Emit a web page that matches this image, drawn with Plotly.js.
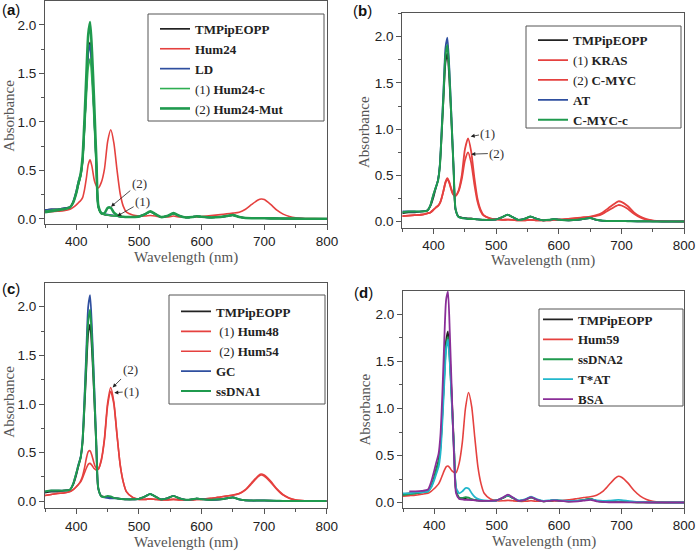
<!DOCTYPE html>
<html>
<head>
<meta charset="utf-8">
<script src="https://cdn.plot.ly/plotly-3.0.1.min.js"></script>
<style>
  html, body { margin: 0; padding: 0; background: #fff; }
  #chart { width: 696px; height: 552px; }
</style>
</head>
<body>
<div id="chart"></div>
<script>
// Wavelength grid (nm) shared by every spectrum
const wavelength = [350, 360, 370, 380, 390, 395, 400, 403, 407, 410, 413, 416, 419, 422, 425, 428, 430, 432, 435, 440,
  445, 450, 455, 460, 465, 470, 475, 480, 490, 500, 510, 518, 526, 535, 545, 555, 565, 575, 585, 592,
  600, 615, 630, 640, 650, 660, 670, 680, 690, 695, 700, 710, 720, 730, 740, 750, 765, 780, 800];

// Q-band region (465-800 nm) of the free porphyrin, reused by the unbound spectra
const freeTail = [0.03, 0.025, 0.022, 0.02, 0.02, 0.025, 0.05, 0.075, 0.05, 0.02, 0.03, 0.055, 0.03, 0.015, 0.02,
  0.028, 0.022, 0.015, 0.02, 0.03, 0.04, 0.02, 0.01, 0.008, 0.008, 0.008, 0.008, 0.006, 0.005, 0.004,
  0.004, 0.003, 0.002, 0.002, 0.002];

const tmpipeopp = [0.09, 0.10, 0.10, 0.11, 0.12, 0.17, 0.27, 0.35, 0.45, 0.60, 0.95, 1.35, 1.72, 1.82, 1.55, 1.15,
  0.85, 0.55, 0.13, 0.055, 0.045, 0.04, 0.035, 0.035, ...freeTail];

// (a)
const hum24 = [0.07, 0.075, 0.08, 0.085, 0.10, 0.12, 0.145, 0.165, 0.19, 0.22, 0.30, 0.42, 0.56, 0.61, 0.54, 0.42,
  0.37, 0.34, 0.32, 0.38, 0.52, 0.80, 0.92, 0.78, 0.50, 0.26, 0.13, 0.07, 0.04, 0.03, 0.03, 0.035, 0.03, 0.02,
  0.02, 0.03, 0.02, 0.018, 0.02, 0.02, 0.025, 0.035, 0.045, 0.052, 0.06, 0.07, 0.10, 0.15, 0.195, 0.205, 0.20,
  0.15, 0.09, 0.05, 0.025, 0.012, 0.005, 0.003, 0.002];
const ld = [0.09, 0.10, 0.10, 0.11, 0.12, 0.18, 0.29, 0.38, 0.47, 0.61, 0.95, 1.34, 1.70, 1.80, 1.53, 1.13,
  0.83, 0.54, 0.13, 0.06, 0.05, 0.045, 0.04, 0.035, ...freeTail];
const hum24c = [0.08, 0.09, 0.10, 0.10, 0.12, 0.17, 0.27, 0.35, 0.44, 0.58, 0.90, 1.25, 1.56, 1.65, 1.42, 1.05,
  0.78, 0.50, 0.12, 0.055, 0.045, 0.04, 0.035, 0.032, ...freeTail];
const hum24Mut = [0.07, 0.08, 0.09, 0.10, 0.12, 0.17, 0.27, 0.36, 0.47, 0.64, 1.02, 1.48, 1.90, 2.03, 1.72, 1.27,
  0.93, 0.60, 0.14, 0.06, 0.06, 0.115, 0.115, 0.065, 0.04, 0.025, 0.022, 0.02, 0.02, 0.025, 0.05, 0.08, 0.05,
  0.02, 0.03, 0.06, 0.03, 0.015, 0.02, 0.028, 0.022, 0.015, 0.02, 0.03, 0.04, 0.02, 0.01, 0.008, 0.008, 0.008,
  0.008, 0.006, 0.005, 0.004, 0.004, 0.003, 0.002, 0.002, 0.002];

// (b)
const kras = [0.06, 0.065, 0.07, 0.075, 0.09, 0.10, 0.13, 0.15, 0.17, 0.20, 0.26, 0.34, 0.43, 0.47, 0.43, 0.36,
  0.32, 0.29, 0.28, 0.34, 0.50, 0.78, 0.90, 0.76, 0.48, 0.25, 0.13, 0.07, 0.035, 0.025, 0.02, 0.022, 0.02, 0.015,
  0.015, 0.02, 0.015, 0.015, 0.015, 0.02, 0.022, 0.03, 0.04, 0.048, 0.055, 0.07, 0.10, 0.15, 0.20, 0.22, 0.215,
  0.17, 0.10, 0.055, 0.028, 0.012, 0.005, 0.003, 0.002];
const cmyc = [0.06, 0.065, 0.07, 0.075, 0.09, 0.10, 0.13, 0.15, 0.17, 0.20, 0.26, 0.34, 0.42, 0.46, 0.42, 0.35,
  0.31, 0.29, 0.28, 0.33, 0.46, 0.66, 0.75, 0.64, 0.41, 0.22, 0.115, 0.065, 0.035, 0.025, 0.02, 0.022, 0.02, 0.015,
  0.015, 0.02, 0.015, 0.015, 0.015, 0.02, 0.022, 0.03, 0.038, 0.045, 0.05, 0.062, 0.085, 0.125, 0.165, 0.18, 0.175,
  0.14, 0.085, 0.045, 0.022, 0.01, 0.004, 0.003, 0.002];
const at = [0.11, 0.11, 0.11, 0.11, 0.12, 0.18, 0.30, 0.36, 0.45, 0.62, 1.02, 1.46, 1.88, 1.99, 1.68, 1.22,
  0.90, 0.58, 0.14, 0.05, 0.04, 0.035, 0.03, 0.03, ...freeTail];
const cmycC = [0.10, 0.11, 0.11, 0.11, 0.12, 0.18, 0.30, 0.36, 0.44, 0.60, 0.98, 1.40, 1.80, 1.91, 1.62, 1.18,
  0.87, 0.56, 0.14, 0.05, 0.04, 0.035, 0.03, 0.03, ...freeTail];

// (c)
const hum48 = [0.06, 0.07, 0.08, 0.085, 0.10, 0.12, 0.15, 0.17, 0.21, 0.26, 0.34, 0.44, 0.51, 0.52, 0.47, 0.40,
  0.36, 0.34, 0.33, 0.42, 0.63, 0.98, 1.13, 1.00, 0.68, 0.38, 0.20, 0.10, 0.04, 0.02, 0.02, 0.025, 0.02, 0.015,
  0.015, 0.02, 0.015, 0.015, 0.015, 0.018, 0.02, 0.03, 0.045, 0.055, 0.065, 0.08, 0.12, 0.19, 0.26, 0.28, 0.27,
  0.21, 0.13, 0.07, 0.035, 0.015, 0.006, 0.003, 0.002];
const hum54 = [0.06, 0.07, 0.08, 0.085, 0.10, 0.12, 0.15, 0.17, 0.20, 0.24, 0.29, 0.34, 0.38, 0.39, 0.37, 0.34,
  0.33, 0.32, 0.33, 0.43, 0.65, 1.01, 1.17, 1.02, 0.69, 0.38, 0.20, 0.10, 0.04, 0.02, 0.02, 0.025, 0.02, 0.015,
  0.015, 0.02, 0.015, 0.015, 0.015, 0.018, 0.02, 0.03, 0.045, 0.055, 0.063, 0.078, 0.115, 0.18, 0.25, 0.27, 0.26,
  0.20, 0.125, 0.065, 0.032, 0.014, 0.006, 0.003, 0.002];
const gc = [0.10, 0.11, 0.11, 0.11, 0.12, 0.18, 0.29, 0.37, 0.46, 0.64, 1.06, 1.55, 2.00, 2.12, 1.78, 1.30,
  0.95, 0.60, 0.14, 0.05, 0.04, 0.035, 0.03, 0.03, ...freeTail];
const ssDNA1 = [0.10, 0.11, 0.11, 0.11, 0.12, 0.18, 0.29, 0.36, 0.45, 0.62, 1.00, 1.45, 1.85, 1.97, 1.66, 1.22,
  0.89, 0.57, 0.14, 0.05, 0.045, 0.055, 0.05, 0.035, ...freeTail];

// (d)
const hum59 = [0.07, 0.075, 0.08, 0.09, 0.10, 0.12, 0.15, 0.17, 0.20, 0.24, 0.29, 0.34, 0.38, 0.39, 0.37, 0.34,
  0.33, 0.32, 0.32, 0.42, 0.64, 1.00, 1.17, 1.02, 0.69, 0.38, 0.20, 0.10, 0.04, 0.02, 0.02, 0.025, 0.02, 0.015,
  0.015, 0.02, 0.015, 0.015, 0.015, 0.018, 0.02, 0.03, 0.045, 0.055, 0.063, 0.08, 0.12, 0.19, 0.26, 0.28, 0.27,
  0.21, 0.13, 0.07, 0.035, 0.015, 0.006, 0.003, 0.002];
const ssDNA2 = [0.08, 0.09, 0.10, 0.11, 0.12, 0.17, 0.26, 0.34, 0.43, 0.58, 0.92, 1.32, 1.66, 1.76, 1.50, 1.10,
  0.80, 0.52, 0.13, 0.05, 0.05, 0.06, 0.055, 0.035, ...freeTail];
const tat = [0.10, 0.10, 0.11, 0.11, 0.12, 0.16, 0.24, 0.30, 0.38, 0.52, 0.85, 1.25, 1.62, 1.73, 1.48, 1.08,
  0.79, 0.51, 0.16, 0.10, 0.12, 0.155, 0.15, 0.10, 0.06, 0.04, 0.03, 0.025, 0.02, 0.025, 0.055, 0.08, 0.055,
  0.025, 0.035, 0.065, 0.035, 0.02, 0.025, 0.03, 0.025, 0.02, 0.022, 0.028, 0.035, 0.025, 0.02, 0.022, 0.028,
  0.03, 0.028, 0.02, 0.012, 0.008, 0.006, 0.004, 0.003, 0.002, 0.002];
const bsa = [null, 0.12, 0.12, 0.125, 0.14, 0.22, 0.34, 0.42, 0.52, 0.72, 1.15, 1.70, 2.15, 2.24, 1.80, 1.20,
  0.80, 0.45, 0.10, 0.04, 0.035, 0.03, 0.03, 0.028, 0.025, 0.022, 0.02, 0.02, 0.02, 0.025, 0.055, 0.085, 0.055,
  0.02, 0.03, 0.06, 0.03, 0.015, 0.02, 0.025, 0.02, 0.012, 0.015, 0.022, 0.03, 0.015, 0.008, 0.005, 0.005, 0.005,
  0.005, 0.004, 0.003, 0.003, 0.002, 0.002, 0.002, 0.002, 0.002];

const BLACK = "#222222";
const RED = "#e5413f";
const BLUE = "#2f4f9f";
const GREEN = "#2fae52";
const DARK_GREEN = "#1f9a4e";
const CYAN = "#22b7cc";
const PURPLE = "#8a2e98";

const W = 696;
const H = 552;
const SERIF = "Liberation Serif, Times New Roman, serif";
const SANS = "Liberation Sans, Arial, sans-serif";

// pixel boxes of the four plot areas (left, right, top, bottom) and their y ranges;
// xTitleY / yTitle give the centres of the axis titles
const panels = [
  { id: "", tag: "a", box: [45, 327, 1, 224], yRange: [-0.052, 2.247], legendAt: [155, 13.9], legendBox: [148, 324, 14, 121],
    tagAt: [0, 10], xTitleY: 257.5, yTitle: [8.7, 116] },
  { id: "2", tag: "b", box: [402.3, 684, 13.3, 227.7], yRange: [-0.065, 2.253], legendAt: [533, 25.2], legendBox: [526, 681, 26, 128],
    tagAt: [351, 11], xTitleY: 260.5, yTitle: [364, 132] },
  { id: "3", tag: "c", box: [45, 326.7, 282.7, 508.3], yRange: [-0.072, 2.247], legendAt: [176, 296.5], legendBox: [169, 325, 295, 404],
    tagAt: [0, 288], xTitleY: 542.5, yTitle: [8.7, 402] },
  { id: "4", tag: "d", box: [403, 684, 291, 507.7], yRange: [-0.053, 2.247], legendAt: [538, 304.5], legendBox: [539, 683, 309, 406],
    tagAt: [352, 292], xTitleY: 541.5, yTitle: [364.5, 409] },
];

const series = [
  [
    [tmpipeopp, "<b>TMPipEOPP</b>", BLACK, 1.7],
    [hum24, "<b>Hum24</b>", RED, 1.6],
    [ld, "<b>LD</b>", BLUE, 1.7],
    [hum24c, "(1) <b>Hum24-c</b>", GREEN, 1.6],
    [hum24Mut, "(2) <b>Hum24-Mut</b>", DARK_GREEN, 2.6],
  ],
  [
    [tmpipeopp, "<b>TMPipEOPP</b>", BLACK, 1.7],
    [kras, "(1) <b>KRAS</b>", RED, 1.8],
    [cmyc, "(2) <b>C-MYC</b>", RED, 1.8],
    [at, "<b>AT</b>", BLUE, 1.8],
    [cmycC, "<b>C-MYC-c</b>", DARK_GREEN, 2],
  ],
  [
    [tmpipeopp, "<b>TMPipEOPP</b>", BLACK, 1.7],
    [hum48, "&nbsp;(1) <b>Hum48</b>", RED, 1.6],
    [hum54, "&nbsp;(2) <b>Hum54</b>", RED, 1.6],
    [gc, "<b>GC</b>", BLUE, 1.8],
    [ssDNA1, "<b>ssDNA1</b>", DARK_GREEN, 2],
  ],
  [
    [tmpipeopp, "<b>TMPipEOPP</b>", BLACK, 1.7],
    [hum59, "<b>Hum59</b>", RED, 1.6],
    [ssDNA2, "<b>ssDNA2</b>", DARK_GREEN, 1.8],
    [tat, "<b>T*AT</b>", CYAN, 1.8],
    [bsa, "<b>BSA</b>", PURPLE, 1.8],
  ],
];

// arrow labels: [panel, text, head wavelength, head absorbance, text wavelength, text absorbance]
const arrowLabels = [
  [0, "(2)", 455.3, 0.127, 500.5, 0.37],
  [0, "(1)", 465.4, 0.03, 505.9, 0.18],
  [1, "(1)", 459.3, 0.92, 486.9, 0.956],
  [1, "(2)", 460.2, 0.73, 501, 0.74],
  [2, "(2)", 458.1, 1.17, 485.8, 1.35],
  [2, "(1)", 460.7, 1.116, 488.5, 1.13],
];

const px = (x) => x / W;
const py = (y) => 1 - y / H;

const traces = [];
const layout = {
  width: W,
  height: H,
  margin: { l: 0, r: 0, t: 0, b: 0 },
  paper_bgcolor: "#fff",
  plot_bgcolor: "#fff",
  showlegend: true,
  shapes: [],
  annotations: [],
};

function paperText(text, x, y, font, extra) {
  return {
    text,
    xref: "paper",
    yref: "paper",
    x: px(x),
    y: py(y),
    xanchor: "center",
    yanchor: "middle",
    showarrow: false,
    font,
    ...extra,
  };
}

panels.forEach((panel, index) => {
  const legendName = index === 0 ? "legend" : `legend${index + 1}`;
  const [left, right, top, bottom] = panel.box;

  series[index].forEach(([y, name, color, width]) => {
    traces.push({
      x: wavelength,
      y,
      name,
      type: "scatter",
      mode: "lines",
      xaxis: `x${panel.id}`,
      yaxis: `y${panel.id}`,
      legend: legendName,
      line: { color, width, shape: "spline", smoothing: 0.6 },
    });
  });

  const common = {
    showline: true,
    mirror: true,
    linecolor: "#555",
    linewidth: 1,
    ticks: "outside",
    ticklen: 5,
    tickwidth: 1,
    tickcolor: "#555",
    showgrid: false,
    zeroline: false,
    tickfont: { family: SANS, size: 13.5, color: "#222" },
  };

  layout[`xaxis${panel.id}`] = {
    ...common,
    domain: [px(left), px(right)],
    anchor: `y${panel.id}`,
    range: [350, 800],
    tick0: 0,
    dtick: 100,
    minor: { ticks: "outside", ticklen: 3, dtick: 50, tickcolor: "#555" },
  };
  layout[`yaxis${panel.id}`] = {
    ...common,
    domain: [py(bottom), py(top)],
    anchor: `x${panel.id}`,
    range: panel.yRange,
    tick0: 0,
    dtick: 0.5,
    tickformat: ".1f",
    minor: { ticks: "outside", ticklen: 3, dtick: 0.25, tickcolor: "#555" },
  };

  layout[legendName] = {
    x: px(panel.legendAt[0]),
    y: py(panel.legendAt[1]),
    xanchor: "left",
    yanchor: "top",
    bgcolor: "rgba(0,0,0,0)",
    borderwidth: 0,
    itemwidth: 30,
    font: { family: SERIF, size: 13, color: "#222" },
  };

  const [bx0, bx1, by0, by1] = panel.legendBox;
  layout.shapes.push({
    type: "rect",
    xref: "paper",
    yref: "paper",
    x0: px(bx0),
    x1: px(bx1),
    y0: py(by1),
    y1: py(by0),
    line: { color: "#555", width: 1 },
    fillcolor: "rgba(0,0,0,0)",
  });

  const titleFont = { family: SERIF, size: 15, color: "#555" };
  layout.annotations.push(paperText("Wavelength (nm)", (left + right) / 2, panel.xTitleY, titleFont));
  layout.annotations.push(paperText("Absorbance", panel.yTitle[0], panel.yTitle[1], titleFont, { textangle: -90 }));
  layout.annotations.push(paperText(`(<b>${panel.tag}</b>)`, panel.tagAt[0], panel.tagAt[1],
    { family: SANS, size: 15, color: "#111" }, { xanchor: "left" }));
});

arrowLabels.forEach(([panelIndex, text, x, y, ax, ay]) => {
  const id = panels[panelIndex].id;
  layout.annotations.push({
    text,
    x,
    y,
    ax,
    ay,
    xref: `x${id}`,
    yref: `y${id}`,
    axref: `x${id}`,
    ayref: `y${id}`,
    showarrow: true,
    arrowhead: 2,
    arrowsize: 1,
    arrowwidth: 0.8,
    arrowcolor: "#222",
    font: { family: SERIF, size: 13, color: "#333" },
  });
});

Plotly.newPlot("chart", traces, layout, { displayModeBar: false, staticPlot: true });
</script>
</body>
</html>
